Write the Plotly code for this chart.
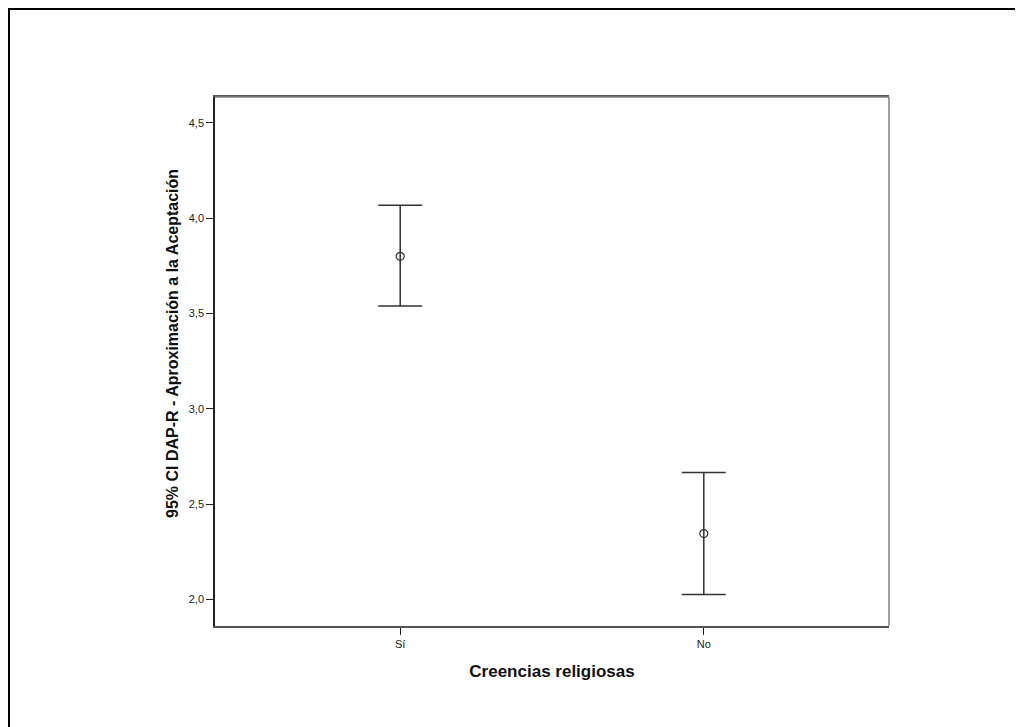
import plotly.graph_objects as go

categories = ["Sí", "No"]
means = [3.80, 2.345]
ci_upper = [4.068, 2.665]
ci_lower = [3.539, 2.025]

err_plus = [u - m for u, m in zip(ci_upper, means)]
err_minus = [m - l for m, l in zip(means, ci_lower)]

fig = go.Figure()
fig.add_trace(go.Scatter(
    x=categories, y=means, mode="markers",
    marker=dict(symbol="circle-open", size=8, color="#333333", line=dict(width=1.2)),
    error_y=dict(type="data", symmetric=False, array=err_plus, arrayminus=err_minus,
                 width=22, thickness=1.5, color="#333333"),
    showlegend=False,
))

# page body has an 8px margin plus a 2px css frame, so the figure starts at page (10, 10)
L, R, T, B = 205, 134, 87, 101
W, H = 1013, 717
pw, ph = W - L - R, H - T - B

fig.update_layout(
    width=W, height=H,
    margin=dict(l=L, r=R, t=T, b=B, autoexpand=False),
    paper_bgcolor="white", plot_bgcolor="white",
    separators=",.",
    font=dict(family="Liberation Sans, Arial, sans-serif", color="#222222"),
    xaxis=dict(
        type="category", range=[-0.61, 1.61],
        showline=True, linecolor="#555555", linewidth=1.5, mirror=True,
        ticks="outside", ticklen=7, tickcolor="#222222", tickwidth=1.2,
        showgrid=False, zeroline=False,
        tickfont=dict(size=11, color="#222222"),
        title=dict(text="<b>Creencias religiosas</b>", font=dict(size=17, color="#111111"), standoff=16),
    ),
    yaxis=dict(
        range=[1.86, 4.636], tickvals=[2.0, 2.5, 3.0, 3.5, 4.0, 4.5], tickformat=".1f",
        showline=True, linecolor="#222222", linewidth=1.5,
        ticks="outside", ticklen=7, tickcolor="#222222", tickwidth=1.2,
        showgrid=False, zeroline=False,
        tickfont=dict(size=11, color="#222222"),
    ),
    annotations=[
        dict(text="<b>95% CI DAP-R - Aproximación a la Aceptación</b>",
             xref="paper", yref="paper", x=-43 / pw, y=(H - B - 334) / ph,
             xanchor="center", yanchor="middle", textangle=-90, showarrow=False,
             font=dict(size=16, color="#111111")),
    ],
    shapes=[
        dict(type="line", xref="paper", yref="paper", x0=0, x1=1, y0=1, y1=1,
             line=dict(color="#808080", width=1.5)),
        dict(type="line", xref="paper", yref="paper", x0=1, x1=1, y0=0, y1=1,
             line=dict(color="#808080", width=1.5)),
    ],
)

fig.write_html(
    "out.html",
    post_script=(
        "document.documentElement.style.overflow='hidden';"
        "document.body.style.overflow='hidden';"
        "var d=document.getElementById('{plot_id}');"
        "d.style.borderLeft='2px solid black';"
        "d.style.borderTop='2px solid black';"
    ),
)
